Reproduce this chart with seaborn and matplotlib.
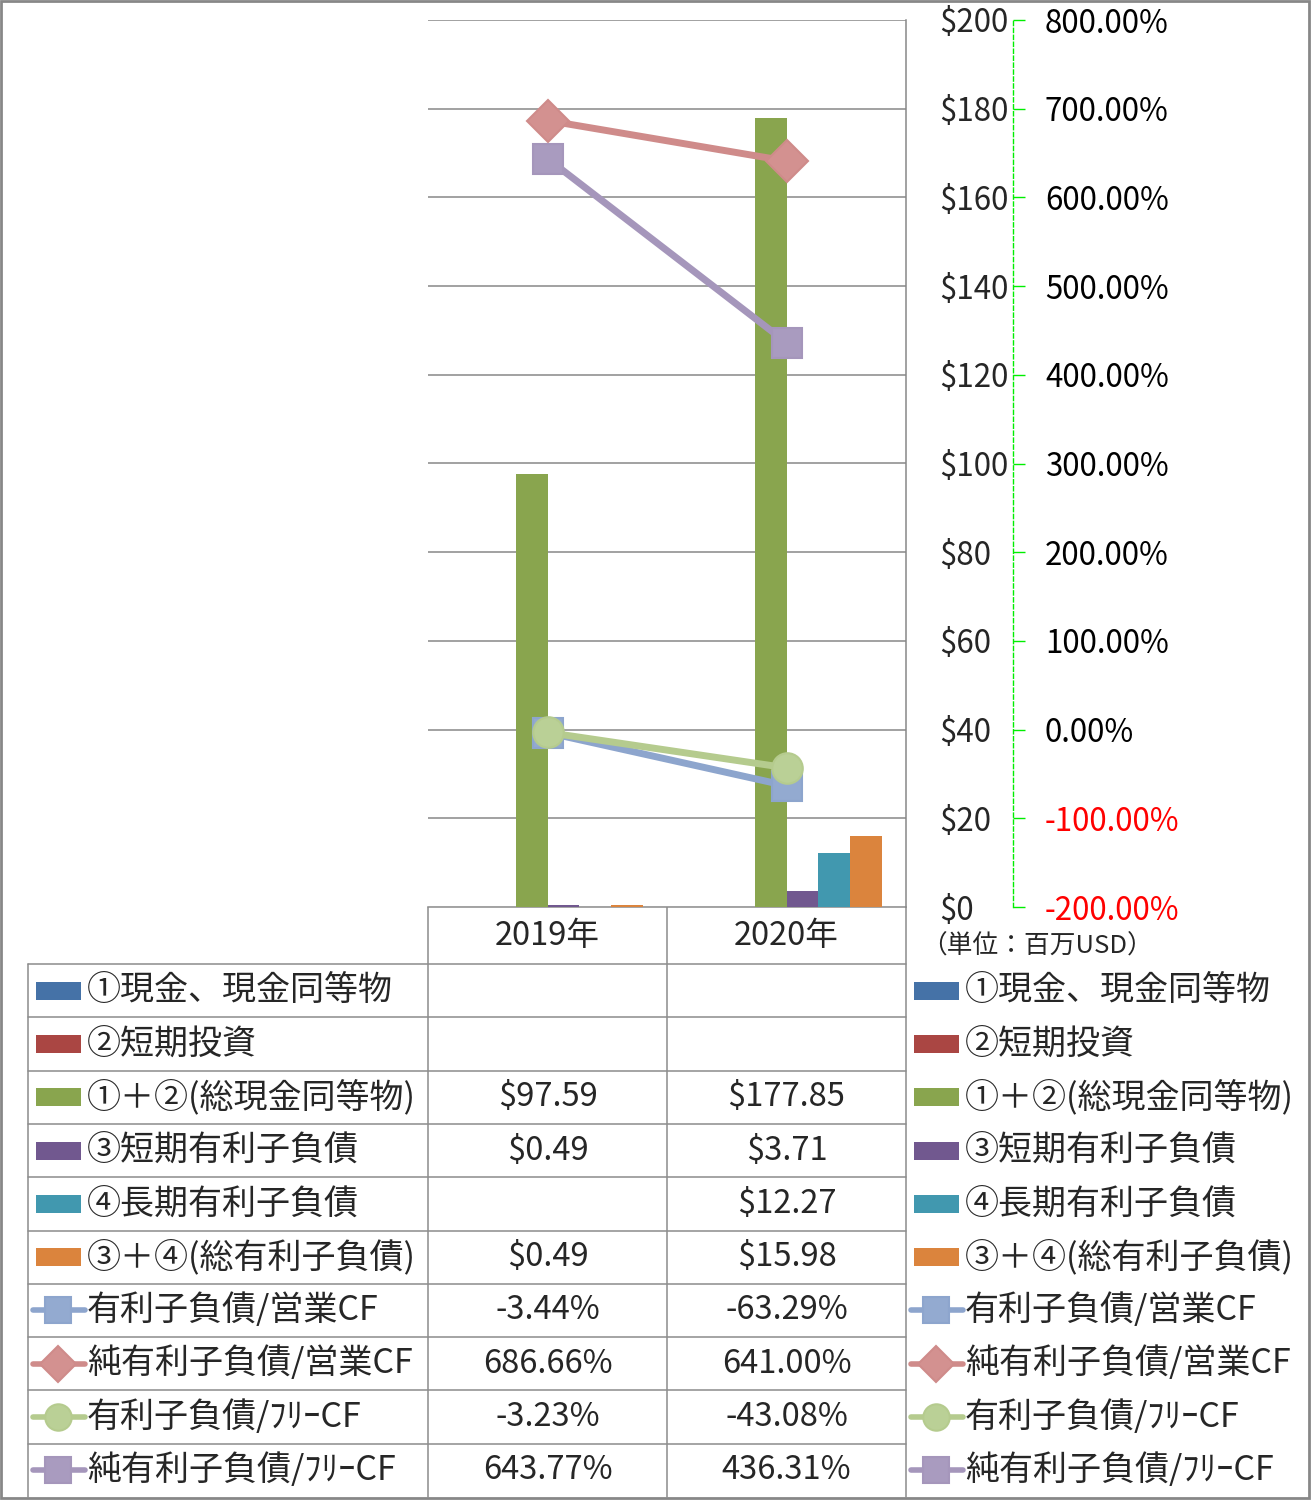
import numpy as np
import pandas as pd
import matplotlib
matplotlib.use("Agg")
import matplotlib.pyplot as plt
import seaborn as sns
from matplotlib.patches import Rectangle

sns.set_style("white")
plt.rcParams["font.family"] = ["Noto Sans CJK JP", "DejaVu Sans"]

# ---------------- data ----------------
years = ["2019年", "2020年"]

bar_names = ["①現金、現金同等物", "②短期投資", "①＋②(総現金同等物)",
             "③短期有利子負債", "④長期有利子負債", "③＋④(総有利子負債)"]
cash = [np.nan, np.nan]
short_inv = [np.nan, np.nan]
total_cash = [97.59, 177.85]
short_debt = [0.49, 3.71]
long_debt = [np.nan, 12.27]
total_debt = [0.49, 15.98]

line_names = ["有利子負債/営業CF", "純有利子負債/営業CF",
              "有利子負債/ﾌﾘｰCF", "純有利子負債/ﾌﾘｰCF"]
debt_ocf = [-3.44, -63.29]
netdebt_ocf = [686.66, 641.00]
debt_fcf = [-3.23, -43.08]
netdebt_fcf = [643.77, 436.31]

usd_ticks = list(range(0, 201, 20))
pct_ticks = list(range(-200, 801, 100))
unit_label = "（単位：百万USD）"

# ---------------- styles ----------------
bar_colors = ["#4572A7", "#AA4643", "#89A54E", "#71588F", "#4198AF", "#DB843D"]
line_colors = ["#8DA5CD", "#CF8B8A", "#B5CB8E", "#A596BB"]
marker_face = ["#93AAD0", "#D39190", "#BAD096", "#A99BBF"]
line_markers = ["s", "D", "o", "s"]
marker_sizes = [22, 21, 22, 22]
grid_col = "#878787"

W, H = 1311, 1500
PX = 72 / 100  # points per pixel

fig = plt.figure(figsize=(W / 100, H / 100), dpi=100)
tab = fig.add_axes([0, 0, 1, 1])
tab.set_xlim(0, W)
tab.set_ylim(H, 0)
tab.axis("off")

L, R, T, B = 428, 906, 20, 907
ax = fig.add_axes([L / W, 1 - B / H, (R - L) / W, (B - T) / H])

bar_series = [cash, short_inv, total_cash, short_debt, long_debt, total_debt]
rows = []
for name, vals in zip(bar_names, bar_series):
    for y, v in zip(years, vals):
        rows.append({"year": y, "series": name, "value": v})
df = pd.DataFrame(rows)

sns.barplot(data=df, x="year", y="value", hue="series", order=years,
            hue_order=bar_names, palette=dict(zip(bar_names, bar_colors)),
            saturation=1, linewidth=0, errorbar=None, legend=False, ax=ax)

ax.set_xlim(-0.5, 1.5)
ax.set_ylim(0, 200)
ax.set_yticks(usd_ticks)
ax.set_yticklabels([f"${v}" for v in usd_ticks])
ax.grid(axis="y", color=grid_col, lw=1.1)
ax.grid(axis="x", visible=False)
ax.set_axisbelow(True)
ax.set_xlabel("")
ax.set_ylabel("")
ax.tick_params(axis="x", length=0, labelbottom=False)
for s in ["left", "top", "bottom"]:
    ax.spines[s].set_visible(False)

ax2 = ax.twinx()
line_series = [debt_ocf, netdebt_ocf, debt_fcf, netdebt_fcf]
for vals, c, fc, m, ms in zip(line_series, line_colors, marker_face, line_markers, marker_sizes):
    sns.lineplot(x=[0, 1], y=vals, ax=ax2, color=c, lw=5, marker=m,
                 markersize=ms, markerfacecolor=fc, markeredgecolor=c,
                 markeredgewidth=1.5, legend=False)
ax2.set_ylim(-200, 800)
ax2.set_yticks(pct_ticks)
ax2.set_ylabel("")
for s in ["left", "top", "bottom"]:
    ax2.spines[s].set_visible(False)
ax2.spines["right"].set_position(("outward", 107 * PX))
ax2.spines["right"].set_color("#00EE00")
ax2.spines["right"].set_linestyle((0, (3, 2)))
ax2.spines["right"].set_linewidth(1)
ax2.tick_params(axis="y", length=12 * PX, width=1, color="#00EE00",
                pad=20 * PX, labelsize=22.5, direction="out")
ax2.set_yticklabels([f"{v:.2f}%" for v in pct_ticks])
for lab, v in zip(ax2.get_yticklabels(), pct_ticks):
    lab.set_color("#FF0000" if v < 0 else "black")

ax.yaxis.tick_right()
ax.tick_params(axis="y", length=0, pad=33 * PX, labelsize=22.5)
ax.spines["right"].set_visible(True)
ax.spines["right"].set_color(grid_col)
ax.spines["right"].set_linewidth(1.1)

# ---------------- data table ----------------
lc = "#8C8C8C"
lw = 1.1
row_top = 964
row_h = (1497 - 964) / 10
col_x = [28, 428, 667, 906]
centers = [547.5, 786.5]

tab.plot([428, 906], [907, 907], color=lc, lw=lw)
for k in range(10):
    y = row_top + k * row_h
    tab.plot([28, 906], [y, y], color=lc, lw=lw)
tab.plot([28, 28], [row_top, 1497], color=lc, lw=lw)
for x in col_x[1:]:
    tab.plot([x, x], [907, 1497], color=lc, lw=lw)

for cx, yr in zip(centers, years):
    tab.text(cx, 936, yr, ha="center", va="center", fontsize=23.5)

tab.text(1037, 947, unit_label, ha="center", va="center", fontsize=18.5)

all_names = bar_names + line_names
for i, name in enumerate(all_names):
    yc = row_top + (i + 0.5) * row_h
    for kx, tx in [(36, 87), (914, 965)]:
        if i < 6:
            tab.add_patch(Rectangle((kx, yc - 9), 45, 18, color=bar_colors[i], lw=0))
        else:
            j = i - 6
            tab.plot([kx - 3, kx + 49], [yc, yc], color=line_colors[j], lw=4,
                     solid_capstyle="round")
            tab.plot([kx + 22], [yc], marker=line_markers[j],
                     markersize=marker_sizes[j] - 3, color=marker_face[j],
                     markeredgecolor=line_colors[j], markeredgewidth=1.5)
        tab.text(tx, yc, name, ha="left", va="center", fontsize=24.5)
    if i < 6:
        vals = bar_series[i]
        for cx, v in zip(centers, vals):
            if not np.isnan(v):
                tab.text(cx, yc, f"${v:.2f}", ha="center", va="center", fontsize=23.5)
    else:
        vals = line_series[i - 6]
        for cx, v in zip(centers, vals):
            tab.text(cx, yc, f"{v:.2f}%", ha="center", va="center", fontsize=23.5)

# outer frame
tab.add_patch(Rectangle((1, 1), W - 3, H - 3, fill=False, edgecolor=grid_col, lw=2))

fig.savefig("out.png", dpi=100)
